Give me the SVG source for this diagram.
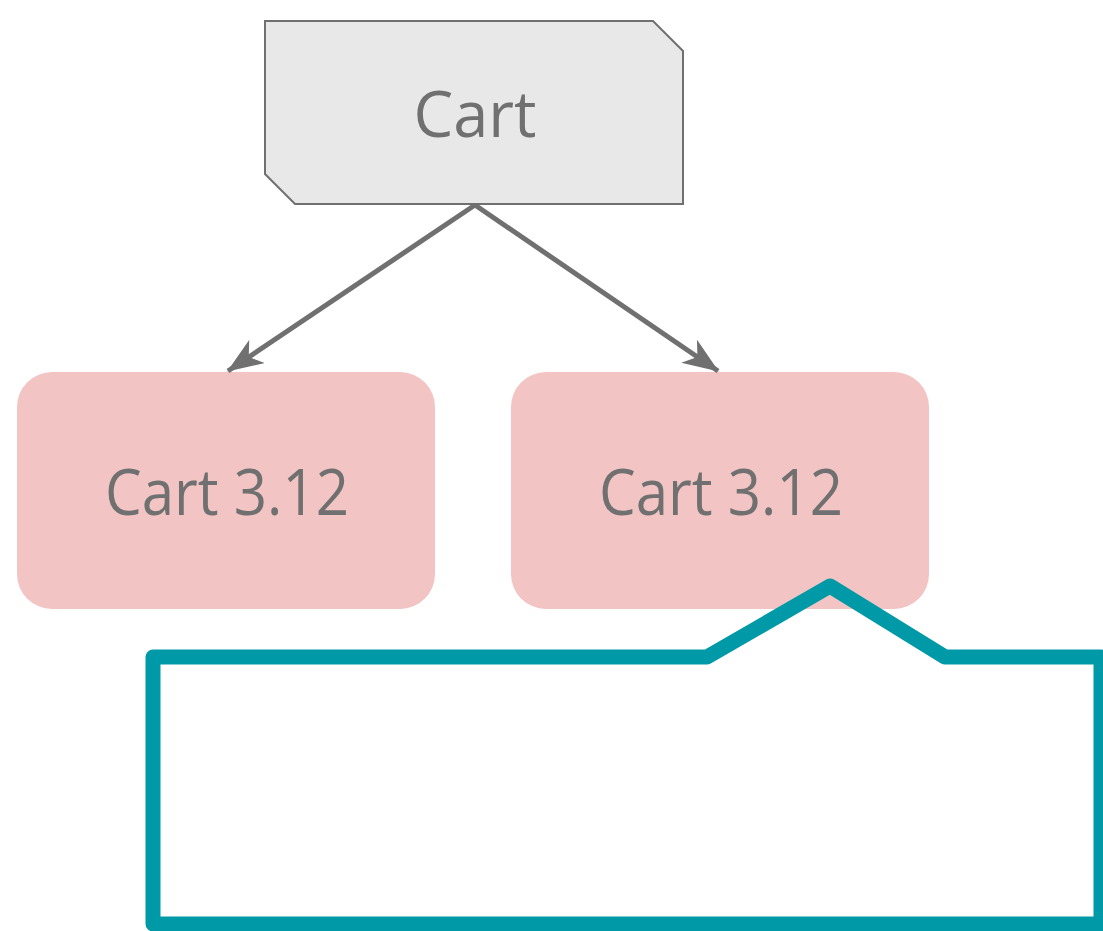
<svg xmlns="http://www.w3.org/2000/svg" width="1103" height="931" viewBox="0 0 1103 931">
  <defs>
    <style>
      .label { font-family: "Open Sans", "Liberation Sans", sans-serif; font-size: 64px; fill: #707070; text-anchor: middle; }
      .tag { fill: #E8E8E8; stroke: #707070; stroke-width: 2; }
      .version { fill: #F2C5C4; }
      .edge { fill: none; stroke: #707070; stroke-width: 5; }
      .callout { fill: none; stroke: #0099A8; stroke-width: 15; stroke-linejoin: round; }
    </style>
    <marker id="arrow" viewBox="0 0 36 28" refX="35" refY="14" markerWidth="36" markerHeight="28" markerUnits="userSpaceOnUse" orient="auto">
      <path d="M0,0 L36,14 L0,28 L10,14 Z" fill="#707070"/>
    </marker>
  </defs>

  <rect width="1103" height="931" fill="#FFFFFF"/>

  <g id="cart">
    <path class="tag" d="M265,21 H653 L683,51 V204 H295 L265,174 Z"/>
    <text class="label" x="475" y="137" textLength="123" lengthAdjust="spacingAndGlyphs">Cart</text>
  </g>

  <g id="cart-3-12-a">
    <rect class="version" x="17" y="372" width="418" height="237" rx="35"/>
    <text class="label" x="227" y="515" textLength="244" lengthAdjust="spacingAndGlyphs">Cart 3.12</text>
  </g>

  <g id="cart-3-12-b">
    <rect class="version" x="511" y="372" width="418" height="237" rx="35"/>
    <text class="label" x="721" y="515" textLength="244" lengthAdjust="spacingAndGlyphs">Cart 3.12</text>
  </g>

  <g id="connectors">
    <line class="edge" x1="475" y1="205" x2="228" y2="371" marker-end="url(#arrow)"/>
    <line class="edge" x1="475" y1="205" x2="718" y2="371" marker-end="url(#arrow)"/>
  </g>

  <g id="callout">
    <path class="callout" d="M153,657 H707 L830,586 L945,657 H1101 V924 H153 Z"/>
  </g>
</svg>
